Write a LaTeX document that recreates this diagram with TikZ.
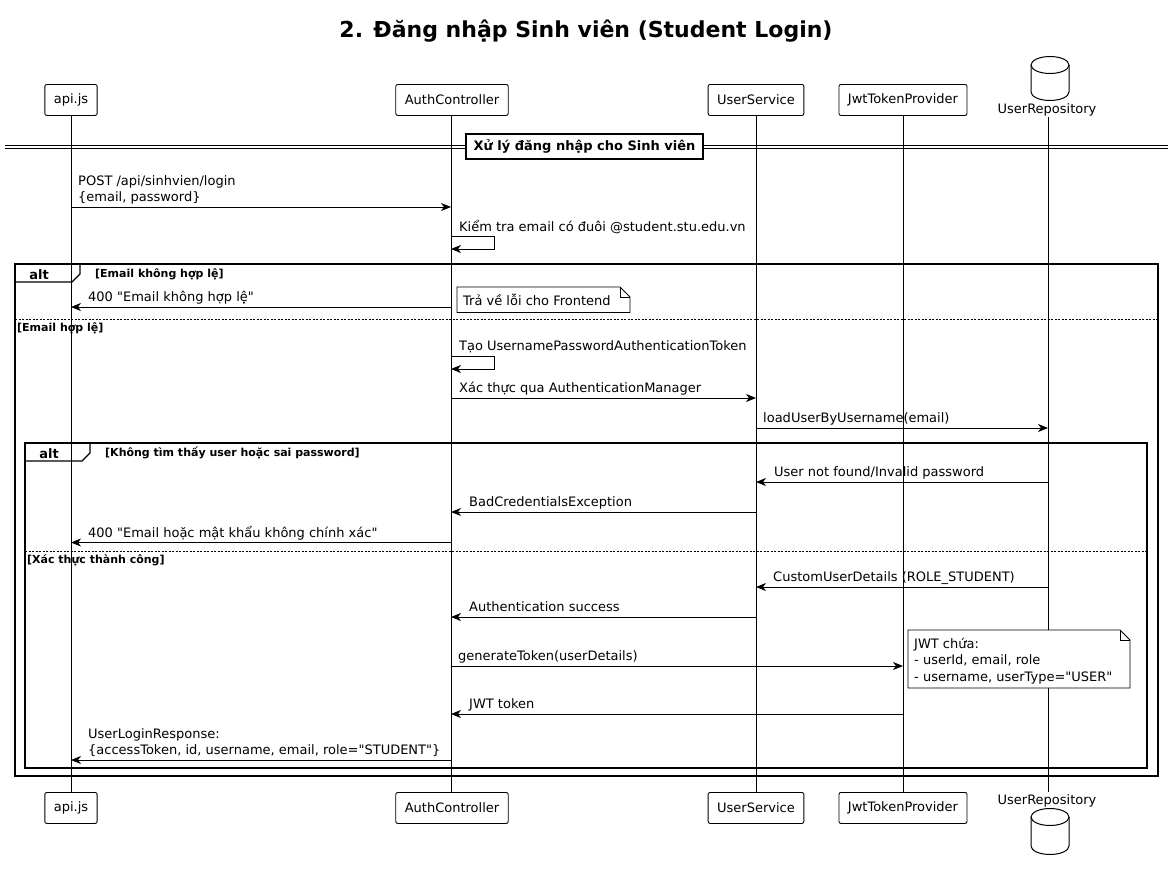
\documentclass[tikz,border=0pt]{standalone}
\usepackage{fontspec}
\setmainfont{DejaVu Sans}
\newfontfamily\dvs{DejaVu Sans}
\usetikzlibrary{arrows.meta,calc}
\begin{document}
\begin{tikzpicture}[x=1pt,y=-1pt,
  part/.style={draw,line width=0.9pt,rounded corners=2pt,minimum height=31pt,inner xsep=9pt,inner ysep=0pt,font=\dvs\fontsize{13}{15}\selectfont,anchor=north,fill=white},
  life/.style={line width=0.8pt},
  msg/.style={line width=0.9pt,-{Stealth[length=10pt,width=8pt,inset=3pt]}},
  lbl/.style={font=\dvs\fontsize{13}{16}\selectfont,anchor=base west,inner sep=0pt},
  frm/.style={line width=1.2pt},
  sep/.style={line width=0.7pt,dash pattern=on 2pt off 1.5pt},
  cond/.style={font=\dvs\bfseries\fontsize{11}{13}\selectfont,anchor=base west,inner sep=0pt},
  altlbl/.style={font=\dvs\bfseries\fontsize{13}{15}\selectfont,anchor=base,inner sep=0pt},
  notebox/.style={draw,line width=0.9pt,fill=white},
  db/.style={line width=1pt,fill=white}
]
\useasboundingbox (0,0) rectangle (1173,870);

% title
\node[font=\dvs\bfseries\fontsize{22}{26}\selectfont,anchor=base] (title) at (586,37) {2. Đăng nhập Sinh viên (Student Login)};

% participants (top)
\node[part] (papi) at (71,84) {api.js};
\node[part] (pauth) at (452,84) {AuthController};
\node[part] (psvc) at (756,84) {UserService};
\node[part] (pjwt) at (903,84) {JwtTokenProvider};
\node[font=\dvs\fontsize{13}{15}\selectfont,anchor=base,inner sep=0pt] (prepo) at (1047,113) {UserRepository};
% participants (bottom)
\node[part] (qapi) at (71,792) {api.js};
\node[part] (qauth) at (452,792) {AuthController};
\node[part] (qsvc) at (756,792) {UserService};
\node[part] (qjwt) at (903,792) {JwtTokenProvider};
\node[font=\dvs\fontsize{13}{15}\selectfont,anchor=base,inner sep=0pt] (qrepo) at (1047,804) {UserRepository};

% database symbols
\draw[db] (1031,65) -- (1031,92) arc[start angle=180,end angle=0,x radius=19,y radius=8.5] -- (1069,65);
\draw[db] (1050,65) ellipse[x radius=19,y radius=8.5];
\draw[db] (1031,817) -- (1031,846) arc[start angle=180,end angle=0,x radius=19,y radius=8.5] -- (1069,817);
\draw[db] (1050,817) ellipse[x radius=19,y radius=8.5];

% lifelines
\coordinate (rtop) at (1048,117);
\coordinate (rbot) at (1048,792);
\draw[life] (papi.south) -- (qapi.north);
\draw[life] (pauth.south -| 451,0) -- (qauth.north -| 451,0);
\draw[life] (psvc.south) -- (qsvc.north);
\draw[life] (pjwt.south) -- (qjwt.north);
\draw[life] (rtop) -- (rbot);

% divider
\draw[line width=0.8pt] (5,145) -- (1168,145);
\draw[line width=0.8pt] (5,148.5) -- (1168,148.5);
\node[draw,fill=white,line width=1.1pt,minimum width=237pt,minimum height=25pt,inner sep=0pt,font=\dvs\bfseries\fontsize{13}{15}\selectfont] (divider) at (584.5,146.5) {Xử lý đăng nhập cho Sinh viên};

% frames
\draw[frm] (15,264) rectangle (1158,776);
\draw[frm] (15,282) -- (72,282) -- (80,274) -- (80,264);
\node[altlbl] (alt1) at (39,279) {alt};
\node[cond] (c1) at (95,277) {[Email không hợp lệ]};
\draw[sep] (15,319.5) -- (1158,319.5);
\node[cond] (c2) at (17,331) {[Email hợp lệ]};

\draw[frm] (25,443) rectangle (1147,768);
\draw[frm] (25,461) -- (82,461) -- (90,453) -- (90,443);
\node[altlbl] (alt2) at (49,458) {alt};
\node[cond] (c3) at (105,456) {[Không tìm thấy user hoặc sai password]};
\draw[sep] (25,551.5) -- (1147,551.5);
\node[cond] (c4) at (27,563) {[Xác thực thành công]};

% messages
\draw[msg] (papi.south |- 0,207) -- (451,207) coordinate (m1);
\node[lbl] (t1a) at (78,185.7) {POST /api/sinhvien/login};
\node[lbl] (t1b) at (78,201.7) {\{email, password\}};

\draw[msg] (m1 |- 0,236) -- (494,236) -- (494,249) -- (m1 |- 0,249);
\node[lbl] (t2) at (459,231.5) {Kiểm tra email có đuôi @student.stu.edu.vn};

\draw[msg] (m1 |- 0,307) -- (papi.south |- 0,307);
\node[lbl] (t3) at (88,301.5) {400 "Email không hợp lệ"};
\draw[notebox] (457,287) -- (620,287) -- (630,297) -- (630,312.5) -- (457,312.5) -- cycle;
\draw[line width=0.9pt] (620,287) -- (620,297) -- (630,297);
\node[lbl] (n1) at (463,305) {Trả về lỗi cho Frontend};

\draw[msg] (m1 |- 0,356) -- (494,356) -- (494,369) -- (m1 |- 0,369);
\node[lbl] (t4) at (459,350.5) {Tạo UsernamePasswordAuthenticationToken};

\draw[msg] (m1 |- 0,398) -- (psvc.south |- 0,398);
\node[lbl] (t5) at (459,392.5) {Xác thực qua AuthenticationManager};

\draw[msg] (psvc.south |- 0,428) -- (rtop |- 0,428);
\node[lbl] (t6) at (763,422.5) {loadUserByUsername(email)};

\draw[msg] (rtop |- 0,482) -- (psvc.south |- 0,482);
\node[lbl] (t7) at (774,476.5) {User not found/Invalid password};

\draw[msg] (psvc.south |- 0,512) -- (m1 |- 0,512);
\node[lbl] (t8) at (469,506.5) {BadCredentialsException};

\draw[msg] (m1 |- 0,542.5) -- (papi.south |- 0,542.5);
\node[lbl] (t9) at (88,537) {400 "Email hoặc mật khẩu không chính xác"};

\draw[msg] (rtop |- 0,587) -- (psvc.south |- 0,587);
\node[lbl] (t10) at (773,581.5) {CustomUserDetails (ROLE\_STUDENT)};

\draw[msg] (psvc.south |- 0,617) -- (m1 |- 0,617);
\node[lbl] (t11) at (469,611.5) {Authentication success};

\draw[notebox] (908,630) -- (1120,630) -- (1130,640) -- (1130,688) -- (908,688) -- cycle;
\draw[line width=0.9pt] (1120,630) -- (1120,640) -- (1130,640);
\node[lbl] (n2a) at (914,648) {JWT chứa:};
\node[lbl] (n2b) at (914,664.5) {- userId, email, role};
\node[lbl] (n2c) at (914,681) {- username, userType="USER"};

\draw[msg] (m1 |- 0,666) -- (pjwt.south |- 0,666);
\node[lbl] (t12) at (458,660.5) {generateToken(userDetails)};

\draw[msg] (pjwt.south |- 0,714) -- (m1 |- 0,714);
\node[lbl] (t13) at (469,708.5) {JWT token};

\draw[msg] (m1 |- 0,760) -- (papi.south |- 0,760);
\node[lbl] (t14a) at (88,738.5) {UserLoginResponse:};
\node[lbl] (t14b) at (88,754.5) {\{accessToken, id, username, email, role="STUDENT"\}};
\end{tikzpicture}
\end{document}
